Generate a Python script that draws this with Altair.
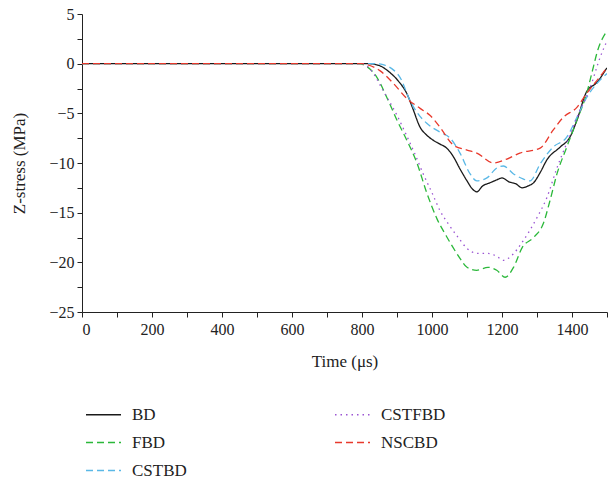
import altair as alt
import pandas as pd

series_names = ["BD", "FBD", "CSTBD", "CSTFBD", "NSCBD"]

bd_t = [0, 820, 850, 880, 905, 928, 945, 966, 985, 1003, 1023, 1042, 1060, 1080, 1100, 1115, 1128, 1145, 1165, 1185, 1200, 1220, 1240, 1257, 1275, 1290, 1310, 1328, 1366, 1394, 1414, 1442, 1471, 1500]
bd_v = [0, 0, -0.2, -0.9, -1.8, -3.0, -4.5, -6.4, -7.2, -7.7, -8.1, -8.5, -9.3, -10.6, -11.8, -12.6, -12.9, -12.3, -12.0, -11.7, -11.5, -11.9, -12.1, -12.5, -12.3, -12.0, -10.9, -9.7, -8.4, -7.4, -5.7, -2.8, -1.9, -0.4]

fbd_t = [0, 790, 814, 843, 871, 900, 928, 957, 985, 1014, 1040, 1060, 1080, 1100, 1128, 1160, 1185, 1209, 1233, 1258, 1290, 1318, 1337, 1357, 1385, 1414, 1442, 1457, 1474, 1500]
fbd_v = [0, 0, -0.3, -1.4, -3.4, -5.7, -7.7, -10.0, -13.0, -15.6, -17.3, -18.5, -19.6, -20.5, -20.8, -20.5, -20.8, -21.5, -20.5, -18.5, -17.5, -16.1, -13.8, -11.1, -8.4, -5.7, -3.0, -0.9, 1.4, 3.3]

cstbd_t = [0, 840, 860, 885, 909, 937, 957, 985, 1023, 1052, 1080, 1109, 1128, 1157, 1185, 1204, 1233, 1260, 1280, 1309, 1346, 1385, 1414, 1442, 1471, 1500]
cstbd_v = [0, 0, -0.1, -0.5, -1.4, -3.7, -4.9, -6.0, -6.9, -7.5, -9.0, -11.1, -11.8, -11.5, -10.5, -10.3, -11.1, -11.6, -11.8, -10.1, -8.4, -7.4, -5.4, -3.4, -2.0, -1.0]

cstfbd_t = [0, 800, 831, 860, 900, 923, 950, 975, 1000, 1023, 1050, 1075, 1100, 1130, 1160, 1185, 1204, 1225, 1261, 1300, 1328, 1357, 1385, 1423, 1452, 1480, 1500]
cstfbd_v = [0, 0, -0.9, -2.7, -5.2, -6.9, -9.0, -11.1, -13.0, -14.8, -16.3, -17.5, -18.6, -19.1, -19.1, -19.4, -19.8, -19.4, -17.8, -15.5, -13.5, -10.5, -8.0, -4.7, -2.4, 0.6, 2.3]

nscbd_t = [0, 800, 814, 851, 890, 928, 966, 994, 1023, 1061, 1100, 1128, 1176, 1214, 1251, 1309, 1346, 1375, 1414, 1442, 1471, 1500]
nscbd_v = [0, 0, -0.1, -0.7, -2.0, -3.5, -4.5, -5.2, -6.4, -8.2, -8.7, -9.0, -10.0, -9.6, -9.0, -8.5, -6.7, -5.4, -4.4, -3.0, -1.7, -0.4]

legend_order = series_names
colors = {"BD": "#1a1a1a", "FBD": "#2bb83a", "CSTBD": "#5ab8e6", "CSTFBD": "#9b55d3", "NSCBD": "#e8392c"}
dashes = {"BD": [1, 0], "FBD": [7, 4], "CSTBD": [7, 4], "CSTFBD": [1.5, 4], "NSCBD": [7, 4]}

rows = []
for name, ts, vs in [("BD", bd_t, bd_v), ("FBD", fbd_t, fbd_v), ("CSTBD", cstbd_t, cstbd_v),
                     ("CSTFBD", cstfbd_t, cstfbd_v), ("NSCBD", nscbd_t, nscbd_v)]:
    for t, v in zip(ts, vs):
        rows.append({"series": name, "t": t, "v": v})
df = pd.DataFrame(rows)

font = "Liberation Serif"
x_ticks = list(range(0, 1501, 100))
y_ticks = [-25 + 2.5 * i for i in range(13)]

legend_kw = dict(orient="none", legendX=3, legendY=382, columns=2,
                 symbolType="stroke", symbolSize=1225, symbolStrokeWidth=1.3,
                 labelFont=font, labelFontSize=17, labelColor="#222",
                 labelOffset=10, rowPadding=1, columnPadding=145)

chart = alt.Chart(df).mark_line(strokeWidth=1.3, interpolate="monotone", clip=True).encode(
    x=alt.X("t:Q", scale=alt.Scale(domain=[0, 1500], nice=False, zero=False),
            axis=alt.Axis(title="Time (μs)", values=x_ticks, format="d",
                          labelExpr="datum.value % 200 == 0 ? datum.label : ''",
                          grid=False, tickSize=5, labelPadding=4, titlePadding=16)),
    y=alt.Y("v:Q", scale=alt.Scale(domain=[-25, 5], nice=False, zero=False),
            axis=alt.Axis(title="Z-stress (MPa)", values=y_ticks,
                          labelExpr="datum.value % 5 == 0 ? datum.label : ''",
                          grid=False, tickSize=5, labelPadding=3, titlePadding=20)),
    color=alt.Color("series:N", title=None,
                    scale=alt.Scale(domain=legend_order, range=[colors[n] for n in legend_order]),
                    legend=alt.Legend(**legend_kw)),
    strokeDash=alt.StrokeDash("series:N", title=None,
                              scale=alt.Scale(domain=legend_order, range=[dashes[n] for n in legend_order]),
                              legend=alt.Legend(**legend_kw)),
    detail="series:N",
).properties(
    width=525, height=298,
    autosize=alt.AutoSizeParams(type="none"),
    padding={"left": 82, "top": 14, "right": 1, "bottom": 172},
).configure_view(stroke=None).configure_axis(
    labelFont=font, titleFont=font, labelFontSize=16, titleFontSize=17,
    labelColor="#222", titleColor="#222", titleFontWeight="normal",
    domainColor="#222", tickColor="#222", domainWidth=1, tickWidth=1,
)

chart.save("out.html", embed_options={"renderer": "svg", "actions": False})
